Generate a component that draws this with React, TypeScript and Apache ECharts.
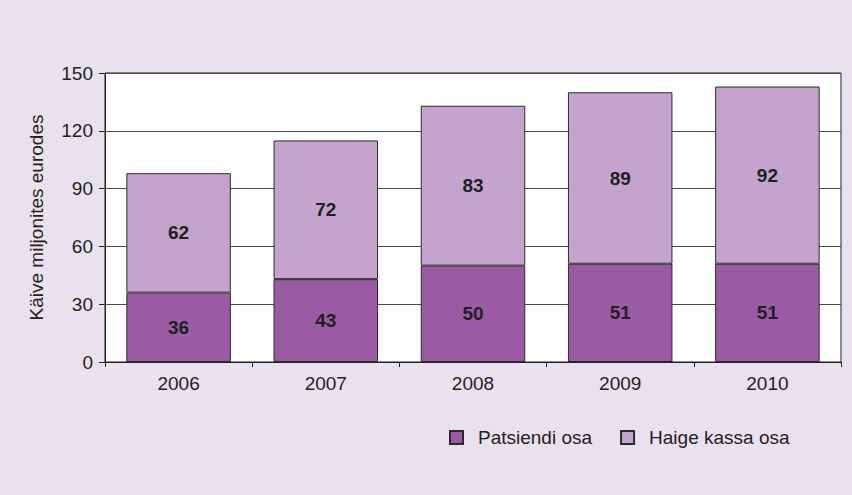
import React, { useEffect, useRef } from "react";
import * as echarts from "echarts";

const years = ["2006", "2007", "2008", "2009", "2010"];
const patsiendiOsa = [36, 43, 50, 51, 51];
const haigeKassaOsa = [62, 72, 83, 89, 92];
const seriesNames = ["Patsiendi osa", "Haige kassa osa"];
const yAxisName = "Käive miljonites eurodes";

const FONT = "'Liberation Sans', Arial, sans-serif";
const FS = 19;

export default function App() {
  const ref = useRef<HTMLDivElement>(null);
  useEffect(() => {
    if (!ref.current) return;
    const chart = echarts.init(ref.current, null, { renderer: "svg" });
    chart.setOption({
      animation: false,
      backgroundColor: "#E9E1EE",
      textStyle: { fontFamily: FONT },
      grid: {
        left: 105,
        right: 11,
        top: 73,
        bottom: 133,
        show: true,
        backgroundColor: "#ffffff",
        borderColor: "#231F20",
        borderWidth: 1,
      },
      legend: {
        left: 444,
        top: 423,
        itemWidth: 13,
        itemHeight: 13,
        itemGap: 28,
        icon: "rect",
        data: seriesNames,
        textStyle: { fontFamily: FONT, fontSize: FS, color: "#231F20", padding: [0, 0, 0, 10] },
      },
      xAxis: {
        type: "category",
        data: years,
        boundaryGap: true,
        axisLine: { lineStyle: { color: "#231F20", width: 1 } },
        axisTick: { show: true, alignWithLabel: false, length: 5, lineStyle: { color: "#231F20" } },
        axisLabel: { fontFamily: FONT, fontSize: FS, color: "#231F20", margin: 12 },
      },
      yAxis: {
        type: "value",
        min: 0,
        max: 150,
        interval: 30,
        name: yAxisName,
        nameLocation: "middle",
        nameGap: 59,
        nameRotate: 90,
        nameTextStyle: { fontFamily: FONT, fontSize: FS, color: "#231F20" },
        axisLine: { show: true, lineStyle: { color: "#231F20", width: 1 } },
        axisTick: { show: true, length: 6, lineStyle: { color: "#231F20" } },
        axisLabel: { fontFamily: FONT, fontSize: FS, color: "#231F20", margin: 12 },
        splitLine: { show: true, lineStyle: { color: "#4a4a4a", width: 1 } },
      },
      series: [
        {
          name: seriesNames[0],
          type: "bar",
          stack: "total",
          data: patsiendiOsa,
          barWidth: "71%",
          itemStyle: { color: "#9A5AA4", borderColor: "#2b2b2b", borderWidth: 1 },
          label: {
            show: true,
            position: "inside",
            fontFamily: FONT,
            fontSize: FS,
            fontWeight: "bold",
            color: "#231F20",
          },
        },
        {
          name: seriesNames[1],
          type: "bar",
          stack: "total",
          data: haigeKassaOsa,
          barWidth: "71%",
          itemStyle: { color: "#C4A3CD", borderColor: "#2b2b2b", borderWidth: 1 },
          label: {
            show: true,
            position: "inside",
            fontFamily: FONT,
            fontSize: FS,
            fontWeight: "bold",
            color: "#231F20",
          },
        },
      ],
    });
    return () => chart.dispose();
  }, []);
  return <div ref={ref} style={{ width: 852, height: 495, position: "absolute", left: 0, top: 0 }} />;
}
